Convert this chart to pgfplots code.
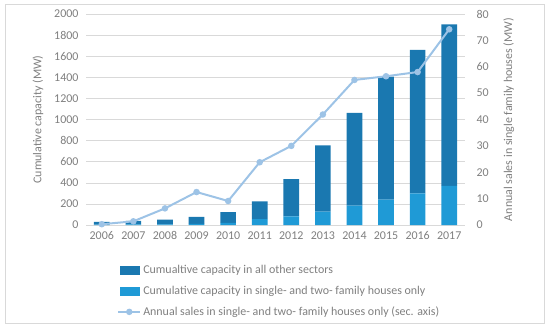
\documentclass[border=0pt]{standalone}
\usepackage{pgfplots}
\pgfplotsset{compat=1.18}
\usepackage{fontspec}
\setmainfont{Carlito}
\definecolor{darkbar}{HTML}{1A78B0}
\definecolor{lightbar}{HTML}{1F9AD6}
\definecolor{linec}{HTML}{9DC3E6}
\definecolor{txt}{HTML}{7F7F7F}
\definecolor{grid}{HTML}{D9D9D9}
\begin{document}
\begin{tikzpicture}[x=1bp,y=1bp]
\useasboundingbox (-86,-101) rectangle (464,225);
\draw[color=grid, line width=0.8bp] (-81,-98) rectangle (458,221);
\begin{axis}[
  at={(0,0)}, anchor=south west,
  scale only axis, width=379bp, height=211bp,
  ybar stacked, bar width=15.7bp,
  xmin=-0.5, xmax=11.5, ymin=0, ymax=2000,
  xtick={0,...,11},
  xticklabels={2006,2007,2008,2009,2010,2011,2012,2013,2014,2015,2016,2017},
  ytick={0,200,...,2000},
  ymajorgrids, grid style={color=grid, line width=0.6bp},
  axis x line*=bottom, axis y line*=left,
  x axis line style={color=grid, line width=0.8bp, -},
  y axis line style={draw=none},
  major tick length=0pt,
  tick label style={font=\fontsize{12}{14}\selectfont, color=txt},
  /pgf/number format/assume math mode=true,
  /pgf/number format/1000 sep={},
  ylabel={Cumulative capacity (MW)},
  ylabel shift=4bp,
  ylabel style={font=\fontsize{12}{14}\selectfont, color=txt},
  xticklabel style={yshift=-3bp},
  yticklabel style={xshift=-4bp},
]
\addplot[fill=lightbar, draw=none] coordinates {(0,3) (1,5) (2,7) (3,10) (4,20) (5,55) (6,82) (7,126) (8,183) (9,240) (10,300) (11,372)};
\addplot[fill=darkbar, draw=none] coordinates {(0,27) (1,35) (2,43) (3,66) (4,103) (5,169) (6,353) (7,628) (8,880) (9,1167) (10,1360) (11,1530)};
\end{axis}
\begin{axis}[
  at={(0,0)}, anchor=south west,
  scale only axis, width=379bp, height=211bp,
  xmin=-0.5, xmax=11.5, ymin=0, ymax=80,
  ytick={0,10,...,80},
  axis x line=none, axis y line*=right,
  y axis line style={draw=none},
  major tick length=0pt,
  tick label style={font=\fontsize{12}{14}\selectfont, color=txt},
  /pgf/number format/assume math mode=true,
  yticklabel style={xshift=8bp},
  ylabel={Annual sales in single family houses (MW)},
  ylabel shift=8bp,
  ylabel style={font=\fontsize{12}{14}\selectfont, color=txt},
  legend style={at={(0.082,-0.18)}, anchor=north west, draw=none, fill=none,
    font=\fontsize{12}{14}\selectfont, text=txt, row sep=7bp,
    cells={anchor=west}, inner sep=0pt},
  legend cell align=left,
]
\addlegendimage{legend image code/.code={\fill[darkbar] (0bp,-4bp) rectangle (19bp,4bp);}}
\addlegendentry{Cumualtive capacity in all other sectors}
\addlegendimage{legend image code/.code={\fill[lightbar] (0bp,-4bp) rectangle (19bp,4bp);}}
\addlegendentry{Cumulative capacity in single- and two- family houses only}
\addplot[color=linec, line width=2bp, mark=*, mark size=2.2bp, mark options={fill=linec, draw=linec},
  legend image code/.code={\draw[linec, line width=2bp] (-2bp,0) -- (20bp,0); \fill[linec] (9bp,0) circle (2.2bp);}]
  coordinates {(0,0.3) (1,1.4) (2,6.3) (3,12.5) (4,9.1) (5,23.8) (6,30.0) (7,41.9) (8,55.0) (9,56.4) (10,58.0) (11,74.2)};
\addlegendentry{Annual sales in single- and two- family houses only (sec. axis)}
\end{axis}
\end{tikzpicture}
\end{document}
